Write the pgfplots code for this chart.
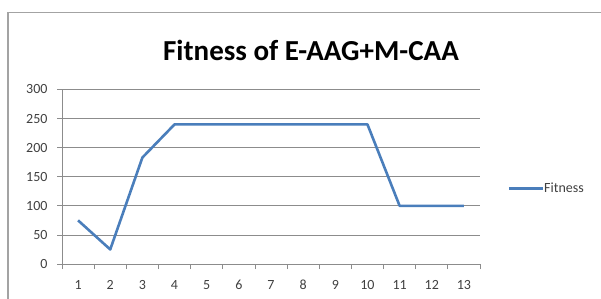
\documentclass[border=0pt]{standalone}
\usepackage{pgfplots}
\pgfplotsset{compat=1.18}
\usepackage{fontspec}
\setmainfont{Carlito}
\definecolor{linecol}{HTML}{4A7EBB}
\definecolor{gridcol}{HTML}{8C8C8C}
\definecolor{txtcol}{HTML}{404040}
\begin{document}
\begin{tikzpicture}[x=1pt,y=1pt]
\useasboundingbox (0,0) rectangle (601,298);
\draw[gridcol!80, line width=1.2pt] (8,-5) -- (8,285.5) -- (610,285.5);
\node[font=\fontsize{29}{34}\selectfont\bfseries, anchor=base] at (311,238) {Fitness of E-AAG+M-CAA};
\begin{axis}[
  at={(62pt,34pt)}, anchor=south west,
  scale only axis, width=418pt, height=174.5pt,
  xmin=0.5, xmax=13.5, ymin=0, ymax=300,
  axis x line=bottom, axis y line=left,
  axis line style={gridcol, line width=0.8pt, -},
  xtick={1,...,13},
  minor xtick={0.5,1.5,...,13.5},
  ytick={0,50,...,300},
  ymajorgrids,
  grid style={gridcol, line width=0.8pt},
  x tick style={draw=none},
  minor x tick style={draw=gridcol, line width=0.8pt},
  y tick style={draw=gridcol, line width=0.8pt},
  tick align=outside,
  major tick length=5pt, minor tick length=5pt,
  tick label style={font=\fontsize{14}{16}\selectfont, text=txtcol},
  xticklabel style={yshift=-7pt, text height=9.5pt, text depth=0pt},
  yticklabel style={xshift=-6pt},
  /pgf/number format/assume math mode=true,
  legend style={at={(1.0655,0.432)}, anchor=west, draw=none, fill=none,
    font=\fontsize{14}{16}\selectfont, text=txtcol, inner sep=0pt,
    nodes={inner sep=0pt}},
  legend image code/.code={\draw[#1] (0pt,0pt) -- (34pt,0pt);},
  legend cell align=left,
  clip=false,
]
\addplot[color=linecol, line width=2.6pt, line join=round] coordinates {
  (1,75) (2,25) (3,183) (4,240) (5,240) (6,240) (7,240) (8,240) (9,240) (10,240) (11,100) (12,100) (13,100)
};
\addlegendentry{Fitness}
\end{axis}
\end{tikzpicture}
\end{document}
